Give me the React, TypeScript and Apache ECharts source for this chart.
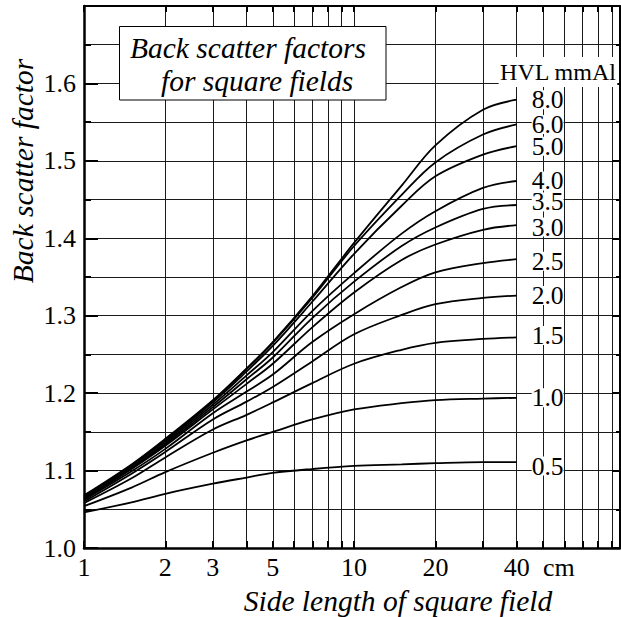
import React, { useEffect, useRef } from 'react';
import * as echarts from 'echarts';

// Side length of square field (cm)
const sideLengths = [1, 1.5, 2, 3, 4, 5, 7, 10, 15, 20, 30, 40];

// HVL (mm Al) curve names
const hvlNames = ['0.5', '1.0', '1.5', '2.0', '2.5', '3.0', '3.5', '4.0', '5.0', '6.0', '8.0'];

// Back scatter factors per HVL
const bsf05 = [1.046, 1.059, 1.070, 1.083, 1.091, 1.097, 1.102, 1.106, 1.108, 1.1096, 1.111, 1.111];
const bsf10 = [1.054, 1.078, 1.098, 1.123, 1.139, 1.150, 1.166, 1.179, 1.187, 1.191, 1.193, 1.194];
const bsf15 = [1.058, 1.090, 1.117, 1.153, 1.172, 1.188, 1.213, 1.238, 1.256, 1.265, 1.270, 1.272];
const bsf20 = [1.060, 1.096, 1.124, 1.166, 1.189, 1.208, 1.241, 1.276, 1.301, 1.315, 1.323, 1.326];
const bsf25 = [1.062, 1.099, 1.128, 1.174, 1.202, 1.224, 1.266, 1.302, 1.337, 1.356, 1.368, 1.373];
const bsf30 = [1.063, 1.102, 1.132, 1.179, 1.212, 1.238, 1.285, 1.330, 1.372, 1.392, 1.411, 1.417];
const bsf35 = [1.064, 1.103, 1.134, 1.182, 1.218, 1.246, 1.297, 1.344, 1.390, 1.414, 1.438, 1.443];
const bsf40 = [1.065, 1.104, 1.136, 1.185, 1.223, 1.253, 1.306, 1.355, 1.406, 1.435, 1.465, 1.474];
const bsf50 = [1.066, 1.106, 1.138, 1.188, 1.228, 1.261, 1.318, 1.380, 1.442, 1.480, 1.508, 1.519];
const bsf60 = [1.067, 1.107, 1.140, 1.190, 1.231, 1.265, 1.323, 1.390, 1.456, 1.498, 1.534, 1.547];
const bsf80 = [1.068, 1.108, 1.141, 1.191, 1.232, 1.266, 1.325, 1.394, 1.468, 1.520, 1.566, 1.579];

const bsfSeries = [bsf05, bsf10, bsf15, bsf20, bsf25, bsf30, bsf35, bsf40, bsf50, bsf60, bsf80];

// Axis ticks
const xGridValues = [1, 2, 3, 4, 5, 6, 7, 8, 9, 10, 20, 30, 40, 50, 60, 70, 80, 90];
const xTickLabels = [1, 2, 3, 5, 10, 20, 40];
const yMin = 1.0;
const yMax = 1.7;
const yStep = 0.1;
const xMin = 1;
const xMax = 96.5;

// Label vertical nudges (style only)
const labelNudge: Record<string, number> = { '3.5': -3, '3.0': 2, '2.5': 2, '1.5': -2, '0.5': 4 };

const FONT = 'Liberation Serif, Times New Roman, serif';

export default function App() {
  const ref = useRef<HTMLDivElement>(null);

  useEffect(() => {
    if (!ref.current) return;
    const chart = echarts.init(ref.current, undefined, { renderer: 'svg' });

    const series = hvlNames.map((name, i) => ({
      type: 'line',
      name,
      xAxisIndex: 0,
      yAxisIndex: 0,
      data: sideLengths.map((x, j) => [x, bsfSeries[i][j]]),
      symbol: 'none',
      smooth: 0.35,
      lineStyle: { color: '#000', width: 1.8 },
      z: 5,
      endLabel: {
        show: true,
        formatter: () => name,
        distance: 15,
        offset: [0, labelNudge[name] || 0],
        fontFamily: FONT,
        fontSize: 25.5,
        color: '#000',
        backgroundColor: '#fff',
        padding: 0,
        lineHeight: 19,
      },
    }));

    const titleStyle = {
      fontFamily: FONT,
      fontStyle: 'italic',
      fontSize: 29.5,
      fill: '#000',
      verticalAlign: 'middle',
    };

    const option: any = {
      animation: false,
      backgroundColor: '#fff',
      textStyle: { fontFamily: FONT },
      grid: {
        left: 84,
        right: 1,
        top: 6,
        bottom: 69,
        containLabel: false,
        outerBoundsMode: 'none',
      },
      xAxis: [
        {
          type: 'log',
          min: xMin,
          max: xMax,
          position: 'bottom',
          axisLine: { show: true, lineStyle: { color: '#000', width: 2.5 } },
          axisTick: {
            show: true,
            inside: true,
            length: 7,
            customValues: xGridValues,
            lineStyle: { color: '#000', width: 2 },
          },
          axisLabel: {
            show: true,
            customValues: xTickLabels,
            formatter: (v: number) => String(Math.round(v)),
            fontFamily: FONT,
            fontSize: 26,
            color: '#000',
            margin: 6,
          },
          splitLine: { show: true, lineStyle: { color: '#1a1a1a', width: 1 } },
          minorTick: { show: false },
          minorSplitLine: { show: false },
        },
        {
          type: 'log',
          min: xMin,
          max: xMax,
          position: 'top',
          axisLine: { show: true, lineStyle: { color: '#000', width: 2 } },
          axisTick: {
            show: true,
            inside: true,
            length: 6,
            customValues: xGridValues,
            lineStyle: { color: '#000', width: 2 },
          },
          axisLabel: { show: false },
          splitLine: { show: false },
        },
      ],
      yAxis: [
        {
          type: 'value',
          min: yMin,
          max: yMax,
          interval: yStep,
          position: 'left',
          axisLine: { show: true, lineStyle: { color: '#000', width: 2.5 } },
          axisTick: { show: true, inside: true, length: 14, lineStyle: { color: '#000', width: 2 } },
          minorTick: { show: true, splitNumber: 2, length: 7, lineStyle: { color: '#000', width: 2 } },
          axisLabel: {
            show: true,
            formatter: (v: number) => (v > yMax - 0.05 ? '' : v.toFixed(1)),
            fontFamily: FONT,
            fontSize: 26,
            color: '#000',
            margin: 8,
          },
          splitLine: { show: true, lineStyle: { color: '#1a1a1a', width: 1 } },
          minorSplitLine: { show: true, lineStyle: { color: '#1a1a1a', width: 1 } },
        },
        {
          type: 'value',
          min: yMin,
          max: yMax,
          interval: yStep,
          position: 'right',
          axisLine: { show: true, lineStyle: { color: '#000', width: 2 } },
          axisTick: { show: true, inside: true, length: 8, lineStyle: { color: '#000', width: 2 } },
          minorTick: { show: true, splitNumber: 2, length: 4, lineStyle: { color: '#000', width: 2 } },
          axisLabel: { show: false },
          splitLine: { show: false },
        },
      ],
      graphic: [
        {
          type: 'rect',
          z: 100,
          shape: { x: 119.5, y: 26.5, width: 266.5, height: 73.5 },
          style: { fill: '#fff', stroke: '#000', lineWidth: 1 },
        },
        {
          type: 'text',
          z: 101,
          x: 130,
          y: 48,
          style: { ...titleStyle, text: 'Back scatter factors', align: 'left' },
        },
        {
          type: 'text',
          z: 101,
          x: 161,
          y: 81,
          style: { ...titleStyle, text: 'for square fields', align: 'left' },
        },
        {
          type: 'text',
          z: 101,
          x: 558,
          y: 72,
          style: {
            text: 'HVL mmAl',
            fontFamily: FONT,
            fontSize: 24,
            fill: '#000',
            align: 'center',
            verticalAlign: 'middle',
            backgroundColor: '#fff',
            padding: [3, 1, 3, 1],
          },
        },
        {
          type: 'text',
          z: 101,
          x: 23,
          y: 171,
          rotation: Math.PI / 2,
          style: { ...titleStyle, text: 'Back scatter factor', align: 'center' },
        },
        {
          type: 'text',
          z: 101,
          x: 398,
          y: 601,
          style: { ...titleStyle, text: 'Side length of square field', align: 'center' },
        },
        {
          type: 'text',
          z: 101,
          x: 543,
          y: 567,
          style: {
            text: 'cm',
            fontFamily: FONT,
            fontSize: 26,
            fill: '#000',
            align: 'left',
            verticalAlign: 'middle',
          },
        },
      ],
      series,
    };

    chart.setOption(option);
    return () => chart.dispose();
  }, []);

  return (
    <div
      ref={ref}
      style={{ position: 'fixed', left: 0, top: 0, width: 621, height: 617, background: '#fff' }}
    />
  );
}
